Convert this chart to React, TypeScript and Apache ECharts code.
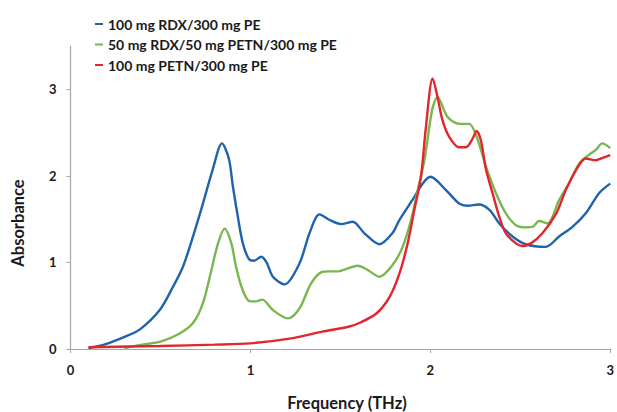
import React, { useEffect, useRef } from "react";
import * as echarts from "echarts";

const seriesNames = [
  "100 mg RDX/300 mg PE",
  "50 mg RDX/50 mg PETN/300 mg PE",
  "100 mg PETN/300 mg PE",
];
const seriesColors = ["#1f63ad", "#78b74f", "#e2262c"];

const rdxFreq = [0.1, 0.2, 0.3, 0.386, 0.496, 0.57, 0.625, 0.681, 0.736, 0.79, 0.842, 0.88, 0.903, 0.93, 0.958, 0.995, 1.02, 1.06, 1.09, 1.125, 1.19, 1.273, 1.329, 1.384, 1.44, 1.504, 1.569, 1.634, 1.717, 1.79, 1.828, 1.9, 1.957, 2.0, 2.087, 2.16, 2.205, 2.27, 2.33, 2.383, 2.457, 2.53, 2.642, 2.716, 2.79, 2.864, 2.938, 3.0];
const rdxAbs = [0.01, 0.06, 0.14, 0.227, 0.45, 0.72, 0.95, 1.3, 1.68, 2.07, 2.375, 2.2, 1.874, 1.53, 1.22, 1.03, 1.02, 1.066, 1.0, 0.835, 0.747, 0.99, 1.34, 1.555, 1.49, 1.443, 1.47, 1.336, 1.21, 1.34, 1.49, 1.72, 1.91, 1.99, 1.836, 1.68, 1.655, 1.67, 1.605, 1.45, 1.3, 1.21, 1.18, 1.3, 1.41, 1.567, 1.8, 1.91];

const mixFreq = [0.3, 0.4, 0.5, 0.607, 0.681, 0.736, 0.783, 0.82, 0.857, 0.894, 0.92, 0.95, 0.98, 1.0, 1.03, 1.066, 1.125, 1.208, 1.273, 1.338, 1.402, 1.495, 1.597, 1.652, 1.717, 1.79, 1.846, 1.893, 1.93, 1.967, 2.01, 2.04, 2.096, 2.16, 2.216, 2.254, 2.31, 2.365, 2.42, 2.476, 2.53, 2.568, 2.605, 2.651, 2.716, 2.77, 2.827, 2.88, 2.92, 2.956, 3.0];
const mixAbs = [0.01, 0.05, 0.085, 0.18, 0.3, 0.53, 0.91, 1.22, 1.39, 1.22, 0.95, 0.72, 0.58, 0.55, 0.55, 0.57, 0.45, 0.354, 0.47, 0.76, 0.893, 0.9, 0.962, 0.912, 0.835, 0.97, 1.18, 1.49, 1.836, 2.18, 2.76, 2.91, 2.68, 2.6, 2.6, 2.47, 2.105, 1.8, 1.567, 1.43, 1.405, 1.41, 1.478, 1.45, 1.72, 1.91, 2.14, 2.24, 2.3, 2.375, 2.32];

const petnFreq = [0.1, 0.5, 0.8, 1.0, 1.217, 1.4, 1.55, 1.605, 1.7, 1.773, 1.828, 1.874, 1.911, 1.948, 1.975, 2.013, 2.04, 2.068, 2.105, 2.16, 2.198, 2.235, 2.257, 2.281, 2.31, 2.346, 2.383, 2.42, 2.476, 2.51, 2.559, 2.623, 2.7, 2.753, 2.81, 2.864, 2.92, 2.947, 3.0];
const petnAbs = [0.02, 0.035, 0.05, 0.065, 0.12, 0.2, 0.26, 0.3, 0.41, 0.6, 0.87, 1.22, 1.605, 1.99, 2.55, 3.126, 2.91, 2.64, 2.45, 2.33, 2.33, 2.43, 2.52, 2.41, 2.067, 1.8, 1.53, 1.336, 1.22, 1.19, 1.22, 1.336, 1.567, 1.836, 2.067, 2.2, 2.18, 2.2, 2.24];

const xTicks = [0, 1, 2, 3];
const yTicks = [0, 1, 2, 3];

const zip = (xs: number[], ys: number[]) => xs.map((x, i) => [x, ys[i]]);

export default function App() {
  const ref = useRef<HTMLDivElement>(null);
  useEffect(() => {
    if (!ref.current) return;
    const chart = echarts.init(ref.current, null, { renderer: "svg" });
    const font = "Lato, 'Open Sans', sans-serif";
    const data = [zip(rdxFreq, rdxAbs), zip(mixFreq, mixAbs), zip(petnFreq, petnAbs)];
    chart.setOption({
      animation: false,
      backgroundColor: "#ffffff",
      grid: { left: 70.5, right: 6, top: 46, bottom: 63, containLabel: false },
      legend: {
        orient: "vertical",
        left: 90,
        top: 11,
        icon: "rect",
        itemWidth: 8,
        itemHeight: 2,
        itemGap: 4.5,
        textStyle: { fontFamily: font, fontWeight: "bold", fontSize: 14, color: "#1a1a1a", lineHeight: 16 },
        data: seriesNames,
      },
      xAxis: {
        type: "value",
        min: 0,
        max: 3,
        interval: 1,
        axisLine: { lineStyle: { color: "#a6a6a6", width: 1.2 } },
        axisTick: { show: true, length: 4, customValues: xTicks, lineStyle: { color: "#a6a6a6" } },
        axisLabel: { customValues: xTicks, margin: 14, fontFamily: font, fontWeight: "bold", fontSize: 13, color: "#1a1a1a" },
        splitLine: { show: false },
      },
      yAxis: {
        type: "value",
        min: 0,
        max: 3.5,
        interval: 1,
        axisLine: { show: true, lineStyle: { color: "#a6a6a6", width: 1.2 } },
        axisTick: { show: true, length: 4, customValues: yTicks, lineStyle: { color: "#a6a6a6" } },
        axisLabel: { customValues: yTicks, margin: 14, fontFamily: font, fontWeight: "bold", fontSize: 13, color: "#1a1a1a" },
        splitLine: { show: false },
      },
      graphic: [
        {
          type: "text",
          x: 18,
          y: 223,
          rotation: Math.PI / 2,
          style: { text: "Absorbance", fontFamily: font, fontWeight: "bold", fontSize: 16.5, fill: "#1a1a1a", align: "center", verticalAlign: "middle" },
        },
        {
          type: "text",
          x: 347,
          y: 403,
          style: { text: "Frequency (THz)", fontFamily: font, fontWeight: "bold", fontSize: 16.5, fill: "#1a1a1a", align: "center", verticalAlign: "middle" },
        },
      ],
      series: seriesNames.map((name, i) => ({
        name,
        type: "line",
        data: data[i],
        showSymbol: false,
        smooth: 0.3,
        lineStyle: { color: seriesColors[i], width: 2.4 },
        itemStyle: { color: seriesColors[i] },
      })),
    });
    return () => chart.dispose();
  }, []);
  return <div ref={ref} style={{ width: 617, height: 412, position: "absolute", left: 0, top: 0 }} />;
}
